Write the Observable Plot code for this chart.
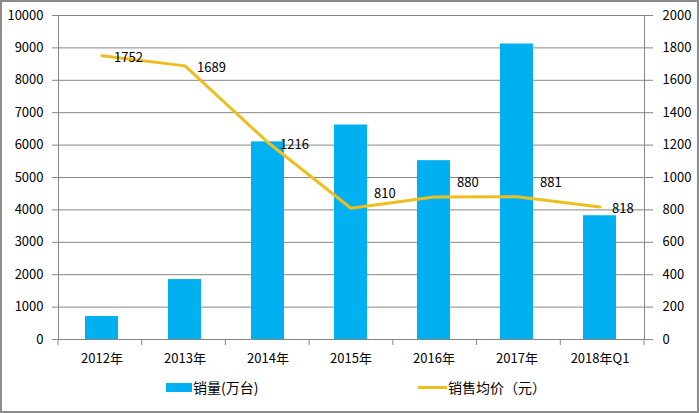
<!DOCTYPE html>
<html>
<head>
<meta charset="utf-8">
<script src="https://cdn.jsdelivr.net/npm/d3@7"></script>
<script src="https://cdn.jsdelivr.net/npm/@observablehq/plot@0.6"></script>
<style>
  html, body { margin: 0; padding: 0; background: #fff; }
  #wrap { position: relative; width: 699px; height: 413px; overflow: hidden; font-family: "Noto Sans CJK SC", sans-serif; }
  #frame { position: absolute; left: 0; top: 0; width: 699px; height: 413px; box-sizing: border-box; border: 2px solid #8c8c8c; pointer-events: none; }
  #legend { position: relative; height: 43px; font-size: 14px; color: #000; }
  .item { position: absolute; top: 0; height: 34px; display: flex; align-items: center; white-space: nowrap; }
  .swatch-bar { width: 26px; height: 9px; background: #00B0F0; margin-right: 1px; }
  .swatch-line { width: 29px; height: 3px; background: #EDBE1E; margin-right: 1px; }
</style>
</head>
<body>
<div id="wrap">
  <div id="chart"></div>
  <div id="legend">
    <div class="item" style="left:166px"><div class="swatch-bar"></div><span>销量(万台)</span></div>
    <div class="item" style="left:418px"><div class="swatch-line"></div><span>销售均价（元）</span></div>
  </div>
  <div id="frame"></div>
</div>
<script>
const categories = ["2012年", "2013年", "2014年", "2015年", "2016年", "2017年", "2018年Q1"];
const sales = [710, 1850, 6100, 6620, 5520, 9120, 3820];          // 销量(万台)
const price = [1752, 1689, 1216, 810, 880, 881, 818];              // 销售均价（元）
const leftTicks = [0, 1000, 2000, 3000, 4000, 5000, 6000, 7000, 8000, 9000, 10000];
const rightTicks = [0, 200, 400, 600, 800, 1000, 1200, 1400, 1600, 1800, 2000];
const labelsAbove = ["2015年", "2016年", "2017年"];

const ratio = leftTicks[leftTicks.length - 1] / rightTicks[rightTicks.length - 1];
const rows = categories.map((c, i) => ({cat: c, sales: sales[i], price: price[i], py: price[i] * ratio}));

const W = 699, H = 370, ML = 58, MR = 55, MT = 15, MB = 31;
const gridColor = "#868686";

const bandEdges = (index, scales, values, dim) => {
  const g = d3.create("svg:g");
  const n = categories.length;
  const step = (dim.width - dim.marginLeft - dim.marginRight) / n;
  const y0 = dim.height - dim.marginBottom;
  for (let i = 0; i <= n; i++) {
    const x = dim.marginLeft + i * step;
    g.append("line").attr("x1", x).attr("x2", x).attr("y1", y0).attr("y2", y0 + 6)
      .attr("stroke", gridColor).attr("stroke-width", 1);
  }
  return g.node();
};

const chart = Plot.plot({
  width: W, height: H,
  marginLeft: ML, marginRight: MR, marginTop: MT, marginBottom: MB,
  style: {fontFamily: "'Noto Sans CJK SC', sans-serif", fontSize: "13px", color: "#000", background: "transparent"},
  x: {domain: categories, paddingInner: 0.6, paddingOuter: 0.3, label: null},
  y: {domain: [0, leftTicks[leftTicks.length - 1]], label: null},
  marks: [
    Plot.gridY(leftTicks, {stroke: gridColor, strokeOpacity: 1, strokeWidth: 1}),
    Plot.barY(rows, {x: "cat", y: "sales", fill: "#00B0F0"}),
    Plot.frame({anchor: "left", stroke: gridColor}),
    Plot.frame({anchor: "right", stroke: gridColor}),
    Plot.frame({anchor: "bottom", stroke: gridColor}),
    Plot.axisY({anchor: "left", ticks: leftTicks, tickSize: 6, tickPadding: 9, stroke: gridColor, fill: "#000", label: null, tickFormat: d => String(d)}),
    Plot.axisY({anchor: "right", ticks: rightTicks.map(v => v * ratio), tickSize: 8, tickPadding: 10, stroke: gridColor, fill: "#000", label: null, tickFormat: d => String(Math.round(d / ratio))}),
    Plot.axisX({anchor: "bottom", tickSize: 0, tickPadding: 14, fill: "#000", label: null}),
    bandEdges,
    Plot.line(rows, {x: "cat", y: "py", stroke: "#EDBE1E", strokeWidth: 3, strokeLinejoin: "round"}),
    Plot.text(rows.filter(d => !labelsAbove.includes(d.cat)), {x: "cat", y: "py", text: d => String(d.price), textAnchor: "start", dx: 12, dy: 2, fill: "#000", fontSize: 13}),
    Plot.text(rows.filter(d => labelsAbove.includes(d.cat)), {x: "cat", y: "py", text: d => String(d.price), textAnchor: "start", dx: 23, dy: -14, fill: "#000", fontSize: 13})
  ]
});
document.getElementById("chart").appendChild(chart);
</script>
</body>
</html>
